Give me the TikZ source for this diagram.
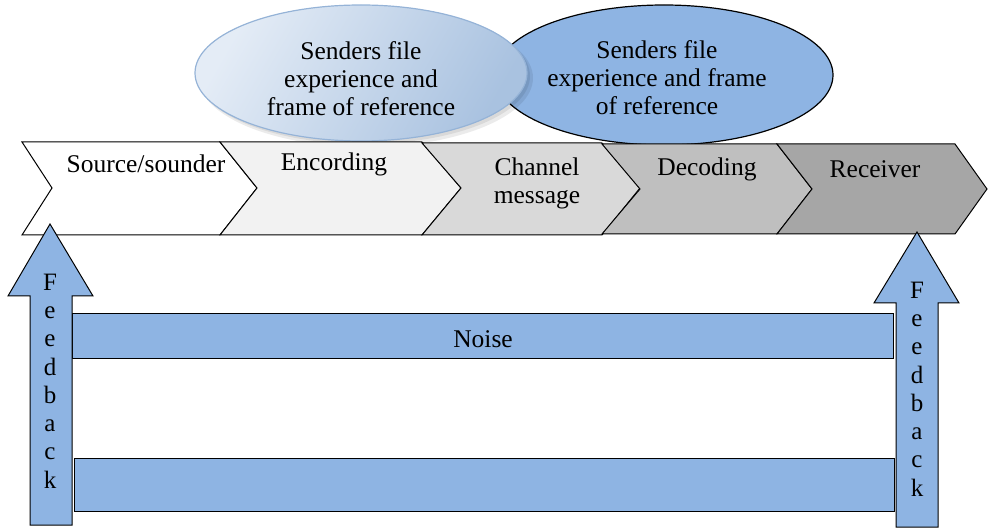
\documentclass[tikz,border=0pt]{standalone}
\usepackage{fontspec}
\setmainfont{Liberation Serif}
\definecolor{fb}{HTML}{8EB4E3}
\definecolor{lbA}{HTML}{E4ECF6}
\definecolor{lbB}{HTML}{A9C2E0}
\definecolor{lbE}{HTML}{95B3D7}
\definecolor{cA}{HTML}{FFFFFF}
\definecolor{cB}{HTML}{F2F2F2}
\definecolor{cC}{HTML}{D9D9D9}
\definecolor{cD}{HTML}{BFBFBF}
\definecolor{cE}{HTML}{A6A6A6}
\tikzset{
  lbl/.style={inner sep=0pt, align=center, font=\fontsize{25.5}{28}\selectfont},
  chev/.style={draw=black, line width=1pt, line join=miter},
  bluebox/.style={fill=fb, draw=black, line width=1pt},
  fbtext/.style={inner sep=0pt, align=center, font=\fontsize{25}{28.3}\selectfont}
}
\begin{document}
\begin{tikzpicture}[x=1pt,y=-1pt]
\useasboundingbox (0,0) rectangle (989,529);
% right ellipse (behind)
\draw[fill=fb, draw=black, line width=1.2pt] (664,75) ellipse [x radius=169, y radius=70];
\node[lbl] (e2) at (657,78) {Senders file\\experience and frame\\of reference};
% left ellipse (front) with soft shadow
\fill[black, opacity=0.08] (366,78) ellipse [x radius=167, y radius=69];
\fill[black, opacity=0.08] (364,76) ellipse [x radius=166, y radius=68];
\shade[left color=lbA, right color=lbB, shading angle=60] (361,73) ellipse [x radius=166, y radius=68];
\draw[lbE, line width=1.2pt] (361,73) ellipse [x radius=166, y radius=68];
\node[lbl] (e1) at (361,79) {Senders file\\experience and\\frame of reference};
% chevrons
\draw[chev, fill=cA] (22,142) -- (220,142) -- (257,188) -- (220,235) -- (22,235) -- (52,188) -- cycle;
\draw[chev, fill=cB] (220,142) -- (422,142) -- (461,188) -- (422,235) -- (220,235) -- (257,188) -- cycle;
\draw[chev, fill=cC] (422,143) -- (602,143) -- (640,188) -- (602,235) -- (422,235) -- (461,188) -- cycle;
\draw[chev, fill=cD] (602,144) -- (777,144) -- (812,189) -- (777,234) -- (602,234) -- (640,189) -- cycle;
\draw[chev, fill=cE] (777,144) -- (955,144) -- (987,189) -- (955,234) -- (777,234) -- (812,189) -- cycle;
\node[lbl] (s) at (146,164) {Source/sounder};
\node[lbl] (enc) at (334,164) {Encording};
\node[lbl] (ch) at (537,183) {Channel\\message};
\node[lbl] (dec) at (707,169) {Decoding};
\node[lbl] (rec) at (875,169) {Receiver};
% bars
\draw[bluebox] (72,314) rectangle (893,359);
\node[lbl] (noise) at (483,339) {Noise};
\draw[bluebox] (74,459) rectangle (894,511);
% feedback arrows
\draw[bluebox, line join=miter] (30,525) -- (30,296) -- (8,296) -- (50,224) -- (93,296) -- (72,296) -- (72,525) -- cycle;
\node[fbtext] (fbl) at (50,381) {F\\e\\e\\d\\b\\a\\c\\k};
\draw[bluebox, line join=miter] (896,527) -- (896,303) -- (874,303) -- (917,232) -- (959,303) -- (938,303) -- (938,527) -- cycle;
\node[fbtext] (fbr) at (917,389) {F\\e\\e\\d\\b\\a\\c\\k};
\end{tikzpicture}
\end{document}
